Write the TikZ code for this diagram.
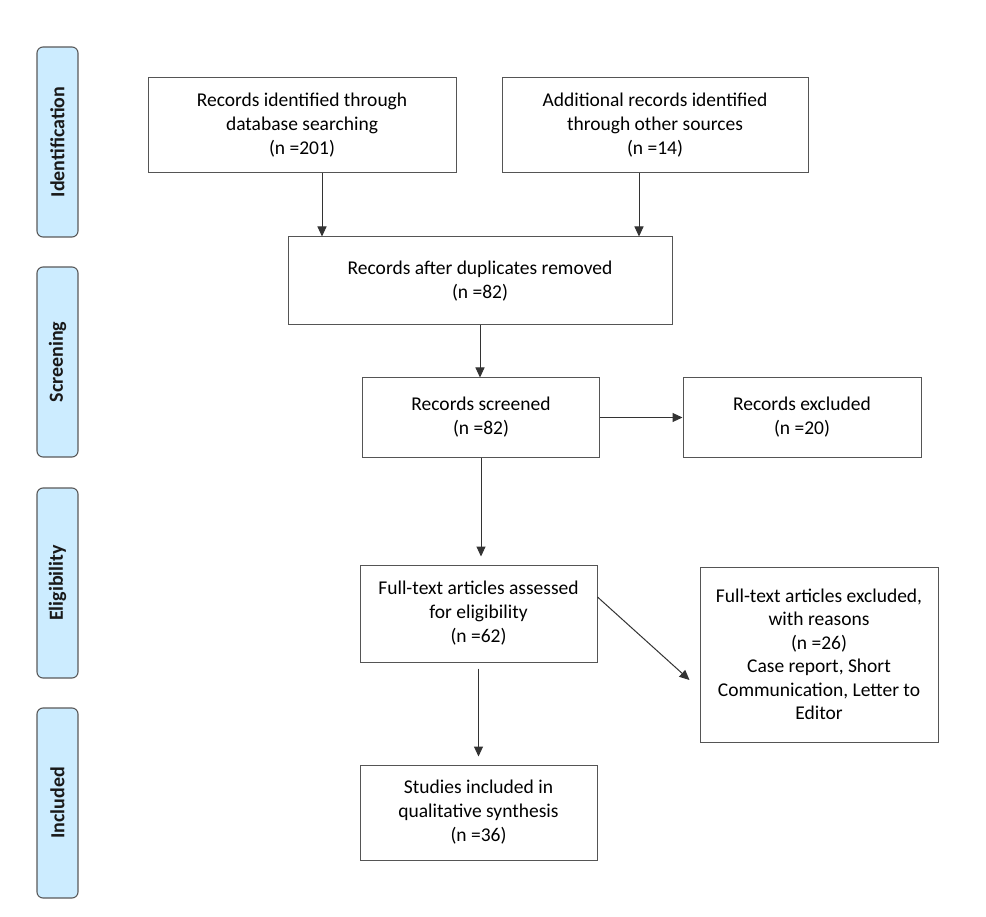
\documentclass[tikz,border=0pt]{standalone}
\usepackage{fontspec}
\setmainfont{Carlito}
\usetikzlibrary{arrows.meta}
\definecolor{sidefill}{HTML}{CCECFF}
\definecolor{sidedraw}{HTML}{5A5A5A}
\definecolor{boxdraw}{HTML}{555555}
\definecolor{arrdraw}{HTML}{333333}
\tikzset{
  flowbox/.style={draw=boxdraw, line width=1pt, fill=white, align=center,
    inner sep=0pt, font=\fontsize{19.5}{24}\selectfont, text=black},
  sidebox/.style={draw=sidedraw, line width=1.1pt, fill=sidefill, rounded corners=6pt,
    minimum width=41pt, minimum height=190pt, inner sep=0pt},
  sidelabel/.style={rotate=90, font=\fontsize{20}{24}\selectfont\bfseries, text=black!90},
  arr/.style={draw=arrdraw, line width=1pt, -{Triangle[length=10pt,width=9pt]}}
}
\begin{document}
\begin{tikzpicture}[x=1pt, y=-1pt]
\useasboundingbox[fill=white] (0,0) rectangle (986,917);

% side phase labels
\node[sidebox] (sid) at (57.5,142) {};
\node[sidelabel] (sidt) at (sid.center) {Identification};
\node[sidebox] (sscr) at (57.5,362) {};
\node[sidelabel] (sscrt) at (sscr.center) {Screening};
\node[sidebox] (selig) at (57.5,583) {};
\node[sidelabel] (seligt) at (selig.center) {Eligibility};
\node[sidebox] (sinc) at (57.5,803) {};
\node[sidelabel] (sinct) at (sinc.center) {Included};

% flow boxes
\node[flowbox, minimum width=308pt, minimum height=95pt] (db) at (302,125.5)
  {Records identified through\\database searching\\(n =201)};
\node[flowbox, minimum width=306pt, minimum height=95pt] (other) at (655,125.5)
  {Additional records identified\\through other sources\\(n =14)};
\node[flowbox, minimum width=384pt, minimum height=88pt] (dup) at (480,281)
  {Records after duplicates removed\\(n =82)};
\node[flowbox, minimum width=237pt, minimum height=79pt] (scr) at (481,417.5)
  {Records screened\\(n =82)};
\node[flowbox, minimum width=238pt, minimum height=79pt] (exc) at (802,417.5)
  {Records excluded\\(n =20)};
\node[flowbox, minimum width=237pt, minimum height=97pt] (full) at (478.5,613.5)
  {Full-text articles assessed\\for eligibility\\(n =62)};
\node[flowbox, minimum width=238pt, minimum height=175pt,
  font=\fontsize{19.5}{23.5}\selectfont] (fexc) at (819,654.5)
  {Full-text articles excluded,\\with reasons\\(n =26)\\Case report, Short\\Communication, Letter to\\Editor};
\node[flowbox, minimum width=237pt, minimum height=95pt] (inc) at (478.5,812.5)
  {Studies included in\\qualitative synthesis\\(n =36)};

% connectors
\draw[arr] ([xshift=20pt]db.south) -- ([xshift=20pt]db.south |- dup.north);
\draw[arr] ([xshift=-16pt]other.south) -- ([xshift=-16pt]other.south |- dup.north);
\draw[arr] (dup.south) -- (dup.south |- scr.north);
\draw[arr] (scr.east) -- (exc.west);
\draw[arr] (scr.south) -- ([yshift=8pt]scr.south |- full.north);
\draw[arr] ([yshift=16.5pt]full.east) -- ([xshift=-10pt,yshift=-25.5pt]fexc.west);
\draw[arr] ([yshift=-6pt]full.south) -- ([yshift=8pt]full.south |- inc.north);
\end{tikzpicture}
\end{document}
